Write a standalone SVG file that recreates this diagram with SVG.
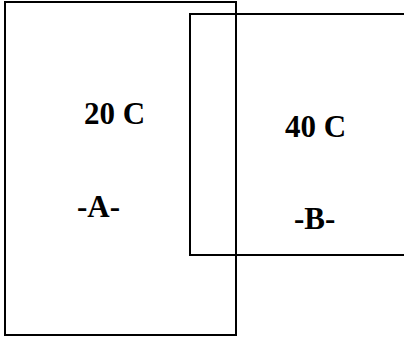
<svg xmlns="http://www.w3.org/2000/svg" width="404" height="340" viewBox="0 0 404 340">
<style>
.box{fill:none;stroke:#000;stroke-width:2}
.t{font-family:"Liberation Serif","Times New Roman",serif;font-weight:bold;font-size:31px;fill:#000}
</style>
<rect width="404" height="340" fill="#fff"/>
<g id="nodeA">
<rect class="box" x="5" y="2" width="231" height="333"/>
<text class="t" x="84" y="124">20 C</text>
<text class="t" x="77" y="217">-A-</text>
</g>
<g id="nodeB">
<rect class="box" x="190" y="14" width="230" height="241"/>
<text class="t" x="285" y="137">40 C</text>
<text class="t" x="294" y="229">-B-</text>
</g>
<g id="connectors"/>
</svg>
